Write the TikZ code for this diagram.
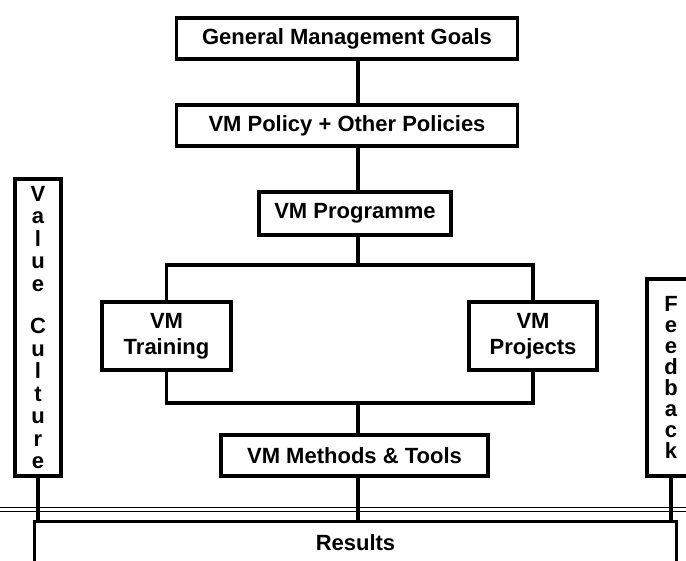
\documentclass[tikz,border=0pt]{standalone}
\usepackage{fontspec}
\setmainfont{Liberation Sans}

\begin{document}
\begin{tikzpicture}[x=1pt, y=-1pt, line width=3.6pt,
        box/.style={rectangle, draw, line width=3.2pt, fill=white, inner sep=0pt, align=center, font=\bfseries\fontsize{22}{26}\selectfont},
        tall/.style={box, font=\bfseries\fontsize{22}{22.5}\selectfont}]
                            \clip (0, 0) rectangle (686, 561);

                            \node (goals)[box, minimum width=341pt, minimum height=41pt] at (347, 38.5) {General Management Goals};
                            \node (policy)[box, minimum width=341pt, minimum height=41pt] at (347, 125.5) {VM Policy + Other Policies};
                            \node (prog)[box, minimum width=192pt, minimum height=43pt] at (355, 213.5) {VM Programme};
                            \node (train)[box, minimum width=129pt, minimum height=68pt] at (166.5, 336) {VM\\Training};
                            \node (proj)[box, minimum width=128pt, minimum height=68pt] at (533, 336) {VM\\Projects};
                            \node (methods)[box, minimum width=267pt, minimum height=41pt] at (354.5, 455.5) {VM Methods \& Tools};
                            \node (vc)[tall, minimum width=46pt, minimum height=297pt] at (38, 327.5) {V\\a\\l\\u\\e\\[20pt]C\\u\\l\\t\\u\\r\\e};
                            \node (fb)[tall, minimum width=48pt, minimum height=197pt, font=\bfseries\fontsize{22}{21}\selectfont] at (671, 377.5) {F\\e\\e\\d\\b\\a\\c\\k};
                            \node (res)[box, anchor=north, minimum width=642pt, inner ysep=13pt, text depth=60pt] at (355.5, 520) {Results};

                            \coordinate (split) at (358, 265);
                            \coordinate (join) at (358, 403);

                            \draw[line width=1.8pt, double, double distance=2.2pt] (0, 509.5) -- (686, 509.5);

                            \draw (split |- goals.south) -- (split |- policy.north);
                            \draw (split |- policy.south) -- (split |- prog.north);
                            \draw (split |- prog.south) -- (split);
                            \draw (train.north) |- (split) -| (proj.north);
                            \draw (train.south) |- (join) -| (proj.south);
                            \draw (join) -- (join |- methods.north);
                            \draw (join |- methods.south) -- (join |- res.north);
                            \draw (vc.south) -- (vc |- res.north);
                            \draw (fb.south) -- (fb |- res.north);

                        \end{tikzpicture}
\end{document}
